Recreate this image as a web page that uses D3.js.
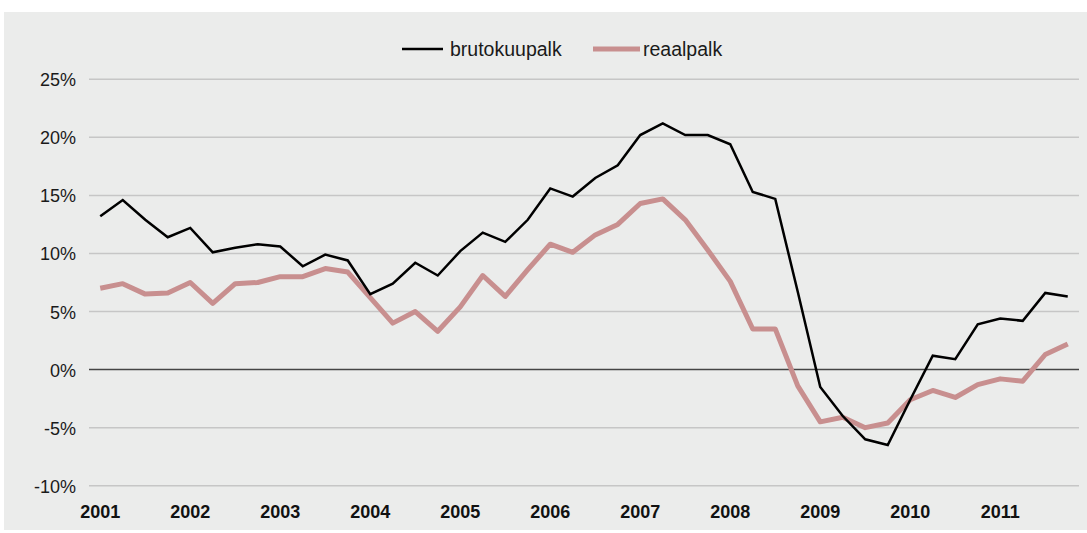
<!DOCTYPE html>
<html>
<head>
<meta charset="utf-8">
<script src="https://cdn.jsdelivr.net/npm/d3@7"></script>
<style>
  body { margin: 0; background: #fff; }
  svg { display: block; font-family: "Liberation Sans", Arial, sans-serif; }
</style>
</head>
<body>
<svg id="chart" width="1087" height="533"></svg>
<script>
// quarterly data 2001 Q1 .. 2011 Q4, percent change year on year
var years = [2001, 2002, 2003, 2004, 2005, 2006, 2007, 2008, 2009, 2010, 2011];
var quarters = [];
years.forEach(function(y) {
  for (var q = 1; q <= 4; q++) quarters.push(y + 'Q' + q);
});

var brutokuupalk = [
  13.2, 14.6, 12.9, 11.4, 12.2, 10.1, 10.5, 10.8, 10.6, 8.9, 9.9, 9.4,
  6.5, 7.4, 9.2, 8.1, 10.2, 11.8, 11.0, 12.9, 15.6, 14.9, 16.5, 17.6,
  20.2, 21.2, 20.2, 20.2, 19.4, 15.3, 14.7, 6.7, -1.5, -4.0, -6.0, -6.5,
  -2.6, 1.2, 0.9, 3.9, 4.4, 4.2, 6.6, 6.3
];
var reaalpalk = [
  7.0, 7.4, 6.5, 6.6, 7.5, 5.7, 7.4, 7.5, 8.0, 8.0, 8.7, 8.4,
  6.2, 4.0, 5.0, 3.3, 5.4, 8.1, 6.3, 8.6, 10.8, 10.1, 11.6, 12.5,
  14.3, 14.7, 12.9, 10.3, 7.6, 3.5, 3.5, -1.4, -4.5, -4.1, -5.0, -4.6,
  -2.6, -1.8, -2.4, -1.3, -0.8, -1.0, 1.3, 2.2
];
var yTicks = [-10, -5, 0, 5, 10, 15, 20, 25];

var svg = d3.select('#chart');
svg.append('rect')
  .attr('x', 4).attr('y', 12)
  .attr('width', 1083).attr('height', 518)
  .attr('fill', '#ebeceb');

var left = 89, right = 1079;
var x = d3.scalePoint().domain(quarters).range([left, right]).padding(0.5);
var y = d3.scaleLinear().domain([-10, 25]).range([485.7, 79.3]);

// gridlines
svg.append('g').selectAll('line')
  .data(yTicks)
  .enter().append('line')
  .attr('x1', left).attr('x2', right)
  .attr('y1', function(d) { return y(d); })
  .attr('y2', function(d) { return y(d); })
  .attr('stroke', function(d) { return d === 0 ? '#444' : '#c6c6c6'; })
  .attr('stroke-width', 1.5);

// y labels
svg.append('g').selectAll('text')
  .data(yTicks)
  .enter().append('text')
  .attr('x', 76)
  .attr('y', function(d) { return y(d) + 7; })
  .attr('text-anchor', 'end')
  .attr('font-size', 18)
  .attr('fill', '#1a1a1a')
  .text(function(d) { return d + '%'; });

// year labels on first quarter
svg.append('g').selectAll('text')
  .data(years)
  .enter().append('text')
  .attr('x', function(d) { return x(d + 'Q1'); })
  .attr('y', 518)
  .attr('text-anchor', 'middle')
  .attr('font-size', 18)
  .attr('font-weight', 'bold')
  .attr('fill', '#111')
  .text(function(d) { return d; });

var line = d3.line()
  .x(function(d, i) { return x(quarters[i]); })
  .y(function(d) { return y(d); });

svg.append('path')
  .datum(reaalpalk)
  .attr('d', line)
  .attr('fill', 'none')
  .attr('stroke', '#c88f8f')
  .attr('stroke-width', 5)
  .attr('stroke-linejoin', 'round');

svg.append('path')
  .datum(brutokuupalk)
  .attr('d', line)
  .attr('fill', 'none')
  .attr('stroke', '#000')
  .attr('stroke-width', 2.5);

// legend
var legend = [
  {name: 'brutokuupalk', color: '#000', width: 2.5, x: 402, len: 41, tx: 450},
  {name: 'reaalpalk', color: '#c88f8f', width: 5, x: 593, len: 47, tx: 643}
];
legend.forEach(function(l) {
  svg.append('line')
    .attr('x1', l.x).attr('x2', l.x + l.len)
    .attr('y1', 49).attr('y2', 49)
    .attr('stroke', l.color).attr('stroke-width', l.width);
  svg.append('text')
    .attr('x', l.tx).attr('y', 56)
    .attr('font-size', 19.5)
    .attr('fill', '#1a1a1a')
    .text(l.name);
});
</script>
</body>
</html>
